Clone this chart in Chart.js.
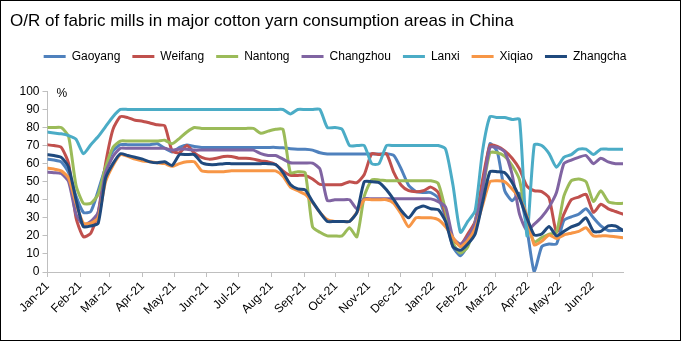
<!DOCTYPE html>
<html>
<head>
<meta charset="utf-8">
<script src="https://cdn.jsdelivr.net/npm/chart.js@4.4.0/dist/chart.umd.min.js"></script>
<style>
  html, body { margin: 0; padding: 0; background: #fff; }
  #wrap { width: 681px; height: 341px; box-sizing: border-box; border: 1px solid #000; background: #fff; }
  canvas { display: block; }
</style>
</head>
<body>
<div id="wrap"><canvas id="chart" width="679" height="339"></canvas></div>
<script>
// Weekly survey dates (Thursdays)
const weeks = [
  '2020-12-31', '2021-01-07', '2021-01-14', '2021-01-21', '2021-01-28', '2021-02-04', '2021-02-11', '2021-02-18', '2021-02-25', '2021-03-04',
  '2021-03-11', '2021-03-18', '2021-03-25', '2021-04-01', '2021-04-08', '2021-04-15', '2021-04-22', '2021-04-29', '2021-05-06', '2021-05-13',
  '2021-05-20', '2021-05-27', '2021-06-03', '2021-06-10', '2021-06-17', '2021-06-24', '2021-07-01', '2021-07-08', '2021-07-15', '2021-07-22',
  '2021-07-29', '2021-08-05', '2021-08-12', '2021-08-19', '2021-08-26', '2021-09-02', '2021-09-09', '2021-09-16', '2021-09-23', '2021-09-30',
  '2021-10-07', '2021-10-14', '2021-10-21', '2021-10-28', '2021-11-04', '2021-11-11', '2021-11-18', '2021-11-25', '2021-12-02', '2021-12-09',
  '2021-12-16', '2021-12-23', '2021-12-30', '2022-01-06', '2022-01-13', '2022-01-20', '2022-01-27', '2022-02-03', '2022-02-10', '2022-02-17',
  '2022-02-24', '2022-03-03', '2022-03-10', '2022-03-17', '2022-03-24', '2022-03-31', '2022-04-07', '2022-04-14', '2022-04-21', '2022-04-28',
  '2022-05-05', '2022-05-12', '2022-05-19', '2022-05-26', '2022-06-02', '2022-06-09', '2022-06-16', '2022-06-23', '2022-06-30'
];

// Month ticks on the date axis
const monthStarts = ['2021-01-01', '2021-02-01', '2021-03-01', '2021-04-01', '2021-05-01', '2021-06-01',
  '2021-07-01', '2021-08-01', '2021-09-01', '2021-10-01', '2021-11-01', '2021-12-01',
  '2022-01-01', '2022-02-01', '2022-03-01', '2022-04-01', '2022-05-01', '2022-06-01'];
const monthLabels = ['Jan-21', 'Feb-21', 'Mar-21', 'Apr-21', 'May-21', 'Jun-21', 'Jul-21', 'Aug-21', 'Sep-21',
  'Oct-21', 'Nov-21', 'Dec-21', 'Jan-22', 'Feb-22', 'Mar-22', 'Apr-22', 'May-22', 'Jun-22'];

// O/R (%) by region
const gaoyang = [
  62.5, 62, 61, 55, 42, 33, 33.5, 45, 58, 67,
  70.5, 70.5, 70.5, 70.5, 70.5, 71, 68.5, 66.5, 69, 70.3,
  69.5, 69, 69, 69, 69, 69, 69, 69, 69, 69,
  69, 69, 68.8, 68.3, 68, 68, 67.5, 66, 65.3, 65.3,
  65.3, 65.3, 65.3, 65.3, 65.3, 65.3, 65.5, 64.5, 57, 48,
  44.5, 44, 44, 41, 30, 14, 9, 15, 28, 46,
  71, 66.5, 45, 39.5, 43.5, 24, 0, 14, 15.5, 15.5,
  28.5, 30.5, 32, 35, 30, 25.5, 23, 23, 23
];
const weifang = [
  70.5, 70, 69, 60, 30, 19.5, 21.5, 33, 60, 79,
  86, 85.5, 84, 83.5, 82.5, 81.5, 81, 67, 66, 70,
  66, 63.5, 62.5, 63, 64, 64, 63, 63, 62.5, 61.5,
  61, 59.5, 56, 53.5, 53.5, 53.5, 51.5, 48.5, 48.3, 48.3,
  48.5, 50, 49.5, 54, 65.5, 65, 65.5, 55, 48, 45,
  44.5, 45, 47, 44, 32, 18, 15, 21, 28, 51,
  70, 69.5, 67, 63, 57, 47.5, 45, 44.5, 41, 22,
  32, 40, 41.5, 43, 33, 37.5, 35, 33.5, 32
];
const nantong = [
  80, 80, 80, 75, 48, 38, 38, 43, 58, 69,
  72.5, 72.5, 72.5, 72.5, 72.5, 72.5, 73, 71, 74, 77.5,
  80, 79.5, 79.5, 79.5, 79.5, 79.5, 79.5, 79.5, 79.5, 76.8,
  78, 79, 79, 55, 55.5, 55, 25, 22, 20, 20,
  20, 24.5, 19.5, 42, 51, 51, 50.5, 50.5, 50.5, 50.5,
  50.5, 50.5, 50.5, 49, 34, 16, 10.5, 14, 27, 45,
  66, 66, 64, 59, 51, 28, 16.5, 19, 21, 22,
  42, 50.5, 51.5, 50, 39, 45, 39, 38, 38
];
const changzhou = [
  55.3, 55, 54.5, 50, 32, 26, 28, 33, 55, 64,
  68.5, 68.5, 68.5, 68.5, 68.5, 68.5, 68.5, 67.5, 68, 68,
  67.5, 67.5, 67.5, 67.5, 67.5, 67.5, 67.5, 67.5, 67.5, 65.5,
  64.5, 64.5, 62.5, 60.5, 60.3, 60.3, 60.3, 57, 39.5, 40,
  40, 40, 35, 40.5, 40.5, 40.5, 40.5, 40.5, 40.5, 40.5,
  40.5, 40.5, 40.5, 39, 36, 19, 15.5, 19.5, 27, 46,
  69, 69, 66.5, 54, 32, 23, 26.5, 30.5, 36, 44,
  60, 62, 63.5, 64.5, 60, 63, 61, 60, 60
];
const lanxi = [
  77.5, 77, 76.5, 75.5, 73.5, 65.5, 70.5, 75, 80.5, 86,
  90, 90, 90, 90, 90, 90, 90, 90, 90, 90,
  90, 90, 90, 90, 90, 90, 90, 90, 90, 90,
  90, 90, 90, 87.5, 90, 90, 90, 90, 80, 80,
  79, 70, 70, 70, 60, 60, 70, 70, 70, 70,
  70, 70, 70, 70, 68, 48, 22, 28, 34, 67,
  86, 85.5, 85.5, 84.5, 84.5, 20, 70.5, 70, 65.5, 58,
  63.5, 65, 68, 68, 65, 68, 68, 68, 68
];
const xiqiao = [
  57.5, 57, 56, 52, 38, 27, 27, 30, 50, 59,
  65, 64, 62.5, 61.5, 61, 60.5, 60, 58.5, 60, 61,
  61, 56, 55.5, 55.5, 55.5, 56, 56, 56, 56, 56,
  56, 56, 53, 47, 45, 43, 38.5, 33, 29, 28,
  28, 28, 33, 40, 40, 40, 40, 38, 32, 25,
  30, 30, 30, 29, 25, 19, 14, 17.5, 24, 37,
  50, 50.5, 50, 46, 41, 31, 15, 17, 20.5, 18.5,
  20.5, 21.5, 22.5, 24.5, 20, 20, 20, 19.5, 19
];
const zhangcha = [
  65, 64.5, 63.5, 58, 40, 25, 25.5, 27, 52, 60,
  65.5, 64.5, 63.5, 62.5, 61, 60.5, 61, 59, 65, 65,
  65, 60.5, 59.5, 59.5, 60, 60, 60, 60, 60, 60,
  60, 59.5, 55, 48.5, 46, 45.5, 39, 33, 28, 28,
  28, 28, 33, 50, 50, 49.5, 45.5, 40, 34, 30,
  35, 36.5, 35, 34.5, 28, 14, 12, 15.5, 21, 38.5,
  55.5, 55.5, 55, 49.5, 41, 30, 20.5, 21, 25.2, 20,
  22.5, 25, 26.5, 30, 22.5, 22.5, 25.5, 25.5, 23
];

const regions = ['Gaoyang', 'Weifang', 'Nantong', 'Changzhou', 'Lanxi', 'Xiqiao', 'Zhangcha'];
const seriesValues = [gaoyang, weifang, nantong, changzhou, lanxi, xiqiao, zhangcha];
const colors = ['#4f81bd', '#c0504d', '#9bbb59', '#8064a2', '#4bacc6', '#f79646', '#1f497d'];

// days since 1 Jan 2021
const dayOf = s => (Date.UTC(+s.slice(0, 4), +s.slice(5, 7) - 1, +s.slice(8, 10)) - Date.UTC(2021, 0, 1)) / 86400000;

const FONT = "'Liberation Sans', Arial, sans-serif";
Chart.defaults.font.family = FONT;
Chart.defaults.color = '#000';

const datasets = regions.map((name, i) => ({
  label: name,
  data: seriesValues[i].map((v, j) => ({ x: dayOf(weeks[j]), y: v })),
  borderColor: colors[i],
  backgroundColor: colors[i],
  borderWidth: 3,
  pointRadius: 0,
  tension: 0.2,
  borderJoinStyle: 'round',
  borderCapStyle: 'round',
  xAxisID: 'x',
  yAxisID: 'y',
  order: regions.length - i   // later series drawn on top, like the original
}));

// "%" unit label in the top-left corner of the plot
const unitLabel = {
  id: 'unitLabel',
  afterDraw(chart) {
    const { ctx, chartArea } = chart;
    ctx.save();
    ctx.font = '12px ' + FONT;
    ctx.fillStyle = '#000';
    ctx.textAlign = 'left';
    ctx.textBaseline = 'middle';
    ctx.fillText('%', chartArea.left + 9, chartArea.top + 2);
    ctx.restore();
  }
};

const axisGray = '#bfbfbf';

new Chart(document.getElementById('chart'), {
  type: 'line',
  data: { datasets },
  plugins: [unitLabel],
  options: {
    responsive: false,
    animation: false,
    devicePixelRatio: 1,
    layout: { padding: { left: 9, right: 20, top: 0, bottom: 0 } },
    plugins: {
      title: {
        display: true,
        text: 'O/R of fabric mills in major cotton yarn consumption areas in China',
        align: 'start',
        color: '#000',
        font: { size: 17, weight: 'normal' },
        padding: { top: 10, bottom: 7 }
      },
      legend: {
        display: true,
        labels: {
          boxWidth: 22,
          boxHeight: 3,
          padding: 12,
          font: { size: 12 },
          color: '#000',
          sort: (a, b) => a.datasetIndex - b.datasetIndex,
          generateLabels: chart => Chart.defaults.plugins.legend.labels.generateLabels(chart)
            .map(l => ({ ...l, lineWidth: 0 }))
        }
      },
      tooltip: { enabled: false }
    },
    scales: {
      x: {
        type: 'linear',
        min: 0,
        max: dayOf('2022-06-30'),
        afterBuildTicks: scale => {
          scale.ticks = monthStarts.map(d => ({ value: dayOf(d) }));
        },
        afterFit: scale => { scale.height = 68; },
        ticks: {
          autoSkip: false,
          maxRotation: 45,
          minRotation: 45,
          padding: 2,
          font: { size: 12 },
          color: '#000',
          callback: (value, index) => monthLabels[index]
        },
        grid: { drawOnChartArea: false, drawTicks: true, tickLength: 5, color: axisGray },
        border: { color: axisGray }
      },
      padTop: {
        type: 'linear',
        position: 'top',
        display: true,
        afterFit: scale => { scale.height = 19; },
        ticks: { display: false },
        grid: { display: false },
        border: { display: false }
      },
      y: {
        type: 'linear',
        min: 0,
        max: 100,
        afterFit: scale => { scale.width = 37.5; },
        ticks: { stepSize: 10, padding: 3, font: { size: 12 }, color: '#000' },
        grid: { drawOnChartArea: false, drawTicks: true, tickLength: 5, color: axisGray },
        border: { color: axisGray }
      },
      padRight: {
        type: 'linear',
        position: 'right',
        display: true,
        afterFit: scale => { scale.width = 37; },
        ticks: { display: false },
        grid: { display: false },
        border: { display: false }
      }
    }
  }
});
</script>
</body>
</html>
